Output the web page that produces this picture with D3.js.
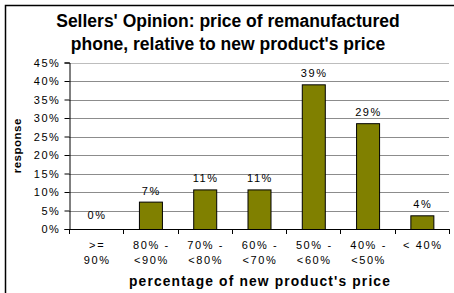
<!DOCTYPE html>
<html><head><meta charset="utf-8">
<script src="https://cdn.jsdelivr.net/npm/d3@7"></script>
<style>body{margin:0;background:#fff;} svg{display:block;font-family:"Liberation Sans",Arial,sans-serif;}</style>
</head><body>
<script>
const categories = [">=|90%", "80% -|<90%", "70% -|<80%", "60% -|<70%", "50% -|<60%", "40% -|<50%", "< 40%"];
const values = [0, 7.4, 10.7, 10.7, 39.1, 28.6, 3.7];
const valueLabels = ["0%", "7%", "11%", "11%", "39%", "29%", "4%"];
const yTicks = [0, 5, 10, 15, 20, 25, 30, 35, 40, 45];
const titleLines = ["Sellers' Opinion: price of remanufactured", "phone, relative to new product's price"];
const xTitle = "percentage of new product's price";
const yTitle = "response";

const W = 454, H = 293;
const m = {left: 69, right: 5, top: 62.5, bottom: 64};
const svg = d3.select("body").append("svg").attr("width", W).attr("height", H);

svg.append("rect").attr("x", 5.5).attr("y", 5.5).attr("width", 460).attr("height", 300)
  .attr("fill", "#fff").attr("stroke", "#000").attr("stroke-width", 1.5);

const x = d3.scaleBand().domain(d3.range(categories.length)).range([m.left, W - m.right]).paddingInner(0).paddingOuter(0);
const y = d3.scaleLinear().domain([0, 45]).range([H - m.bottom, m.top]);

// gridlines
svg.append("g").selectAll("line").data(yTicks.filter(d => d > 0)).join("line")
  .attr("x1", m.left).attr("x2", W - m.right)
  .attr("y1", d => Math.round(y(d)) + 0.5).attr("y2", d => Math.round(y(d)) + 0.5)
  .attr("stroke", d => d === 45 ? "#bdbdbd" : "#8c8c8c").attr("stroke-width", 1);

// y axis
const yAxis = d3.axisLeft(y).tickValues(yTicks).tickFormat(d => d + "%").tickSize(5).tickPadding(5);
const gy = svg.append("g").attr("transform", `translate(${m.left + 0.5},0)`).call(yAxis);
gy.select(".domain").attr("stroke", "#000");
gy.selectAll(".tick line").attr("stroke", "#000");
gy.selectAll(".tick text").attr("font-size", 11).attr("fill", "#000")
  .attr("font-family", "Liberation Sans, Arial, sans-serif").style("letter-spacing", "1.6px").attr("dx", 1);

// bars
const bw = 23;
svg.append("g").selectAll("rect").data(values).join("rect")
  .attr("x", (d, i) => x(i) + x.bandwidth() / 2 - bw / 2 + 0.5)
  .attr("y", d => y(d) + 0.5)
  .attr("width", bw)
  .attr("height", d => Math.max(0, y(0) - y(d)))
  .attr("fill", d => d > 0 ? "#808000" : "none")
  .attr("stroke", d => d > 0 ? "#000" : "none").attr("stroke-width", 1);

// x axis
const xAxisLine = svg.append("g");
xAxisLine.append("line").attr("x1", m.left).attr("x2", W - m.right)
  .attr("y1", Math.round(y(0)) + 0.5).attr("y2", Math.round(y(0)) + 0.5).attr("stroke", "#000");
xAxisLine.selectAll("line.t").data(d3.range(categories.length + 1)).join("line").attr("class", "t")
  .attr("x1", i => Math.round(m.left + i * x.step()) + 0.5).attr("x2", i => Math.round(m.left + i * x.step()) + 0.5)
  .attr("y1", Math.round(y(0))).attr("y2", Math.round(y(0)) + 5).attr("stroke", "#000");

// category labels
const cl = svg.append("g").selectAll("text").data(categories).join("text")
  .attr("x", (d, i) => x(i) + x.bandwidth() / 2 + 1)
  .attr("y", 249).attr("text-anchor", "middle").attr("font-size", 11).attr("fill", "#000")
  .style("letter-spacing", "1.6px");
cl.each(function(d) {
  const parts = d.split("|");
  const t = d3.select(this);
  parts.forEach((p, k) => t.append("tspan").attr("x", t.attr("x")).attr("dy", k === 0 ? 0 : 15).text(p));
});

// value labels
svg.append("g").selectAll("text").data(values).join("text")
  .attr("x", (d, i) => x(i) + x.bandwidth() / 2 + 1)
  .attr("y", (d, i) => d > 0 ? y(d) - 7 : y(0) - 10)
  .attr("text-anchor", "middle").attr("font-size", 11).attr("fill", "#000")
  .style("letter-spacing", "1.6px")
  .text((d, i) => valueLabels[i]);

// titles
svg.append("g").selectAll("text").data(titleLines).join("text")
  .attr("x", 228).attr("y", (d, i) => 27 + i * 23).attr("text-anchor", "middle")
  .attr("font-size", 17.5).attr("font-weight", "bold").attr("fill", "#000").text(d => d);

svg.append("text").attr("x", (m.left + W - m.right) / 2 + 1).attr("y", 286).attr("text-anchor", "middle")
  .attr("font-size", 13.8).attr("font-weight", "bold").style("letter-spacing", "1.15px").attr("fill", "#000").text(xTitle);

svg.append("text").attr("transform", `translate(21,${(y(0) + y(45)) / 2}) rotate(-90)`).attr("text-anchor", "middle")
  .attr("font-size", 11.5).attr("font-weight", "bold").style("letter-spacing", "0.5px").attr("fill", "#000").text(yTitle);
</script>
</body></html>
